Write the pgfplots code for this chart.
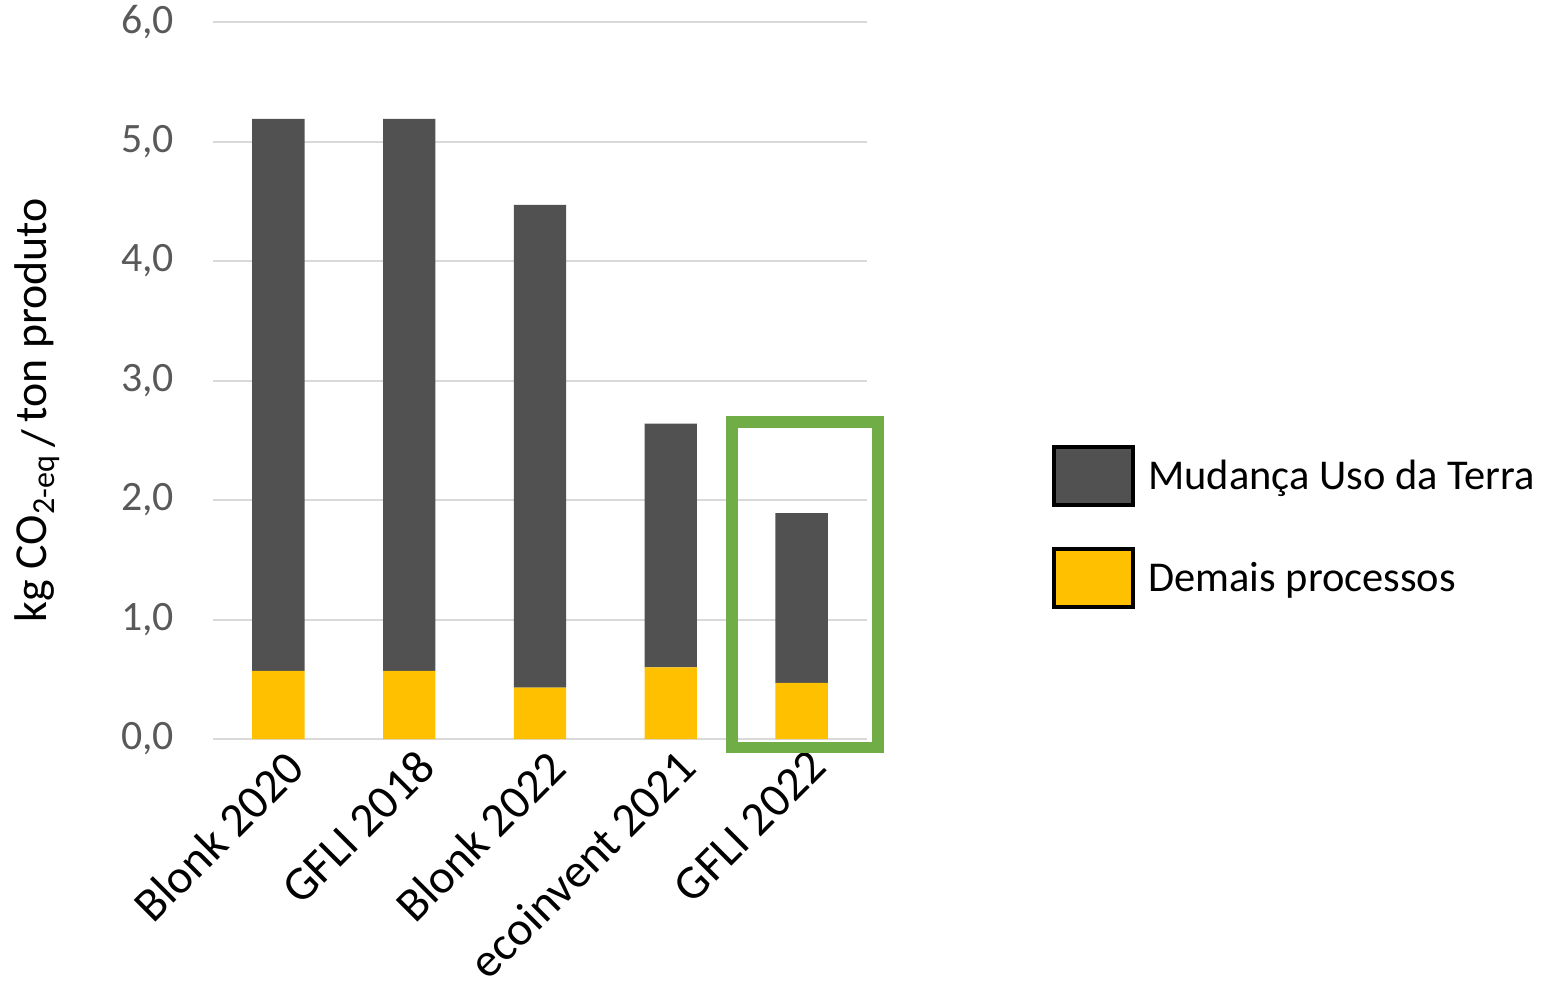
\documentclass[border=0pt]{standalone}
\usepackage{fontspec}
\setmainfont{Carlito}
\usepackage{pgfplots}
\pgfplotsset{compat=1.18}
\definecolor{darkbar}{HTML}{515151}
\definecolor{yellowbar}{HTML}{FFC000}
\definecolor{gridgray}{HTML}{D9D9D9}
\definecolor{ticklab}{HTML}{595959}
\definecolor{boxgreen}{HTML}{70AD47}
\pgfplotsset{
  boxlegend/.style={legend image code/.code={\draw[##1, draw=black, line width=2bp] (0bp,-14.5bp) rectangle (39.5bp,14.5bp);}}
}
\begin{document}
\begin{tikzpicture}
\useasboundingbox (-106.5bp,-121.5bp) rectangle (667bp,369.5bp);
\begin{axis}[
  at={(0,0)}, anchor=south west,
  scale only axis, width=327bp, height=358.5bp,
  xmin=-0.5, xmax=4.5, ymin=0, ymax=6,
  ybar stacked, bar width=0.4,
  xtick={0,...,4},
  xticklabels={Blonk 2020, GFLI 2018, Blonk 2022, ecoinvent 2021, GFLI 2022},
  ytick={0,1,...,6},
  ymajorgrids, major grid style={gridgray, line width=1bp},
  axis line style={draw=none},
  major tick length=0pt,
  yticklabel style={font=\fontsize{21}{25}\selectfont, text=ticklab, anchor=east, xshift=-16bp},
  xticklabel style={font=\fontsize{24}{28}\selectfont, anchor=north east, inner sep=0pt, xshift=2.5bp, yshift=-4bp, rotate=45},
  /pgf/number format/.cd, fixed, fixed zerofill, precision=1, use comma, assume math mode=true, /pgfplots/.cd,
  clip=false,
  reverse legend,
  legend cell align=left,
  legend style={at={(rel axis cs:1.2829,0.41)}, anchor=north west, draw=none, fill=none,
    font=\fontsize{21.3}{25}\selectfont, inner sep=0pt, row sep=20bp,
    /tikz/column sep=4.5bp},
]
\addplot[fill=yellowbar, draw=none, boxlegend] coordinates {(0,0.57) (1,0.57) (2,0.43) (3,0.60) (4,0.47)};
\addplot[fill=darkbar, draw=none, boxlegend] coordinates {(0,4.62) (1,4.62) (2,4.04) (3,2.04) (4,1.42)};
\legend{Demais processos, Mudança Uso da Terra}
\draw[boxgreen, line width=5.75bp] (axis cs:3.466,2.653) rectangle (axis cs:4.583,-0.071);
\end{axis}
\node[rotate=90, font=\fontsize{23}{27}\selectfont] at (-88bp,164.5bp) {kg CO\textsubscript{2-eq}\,\raisebox{-0.3ex}{/}\,ton produto};
\end{tikzpicture}
\end{document}
